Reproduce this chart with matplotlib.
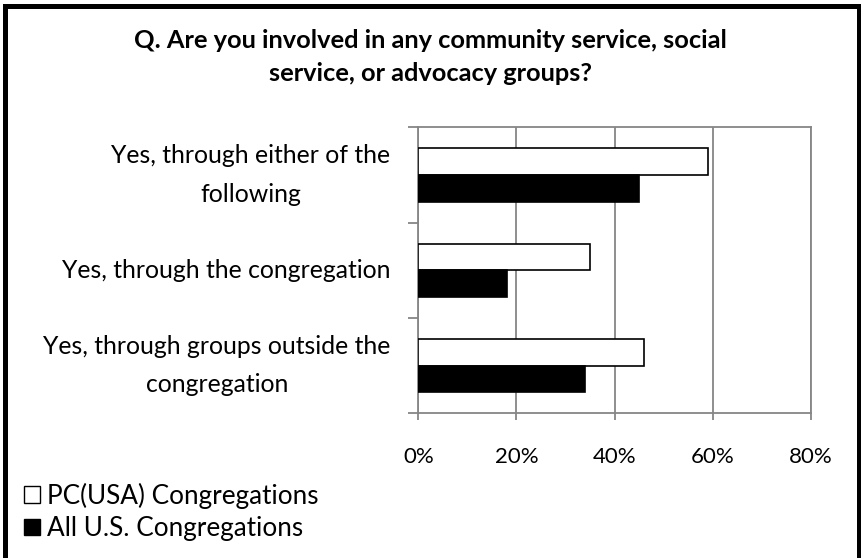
import numpy as np
import matplotlib
matplotlib.use("Agg")
import matplotlib.pyplot as plt
from matplotlib.patches import Rectangle, Patch
from matplotlib.ticker import PercentFormatter

# survey answers (top to bottom) and shares of respondents
categories = ["Yes, through either of the\nfollowing",
              "Yes, through the congregation",
              "Yes, through groups outside the\ncongregation"]
pcusa = [0.59, 0.35, 0.46]
all_us = [0.45, 0.18, 0.34]
series_names = ["PC(USA) Congregations", "All U.S. Congregations"]
x_ticks = [0, 0.2, 0.4, 0.6, 0.8]

plt.rcParams['font.family'] = ['Lato', 'DejaVu Sans']
grey = "#868686"

fig = plt.figure(figsize=(8.61, 5.58), dpi=100)
ax = fig.add_axes([418.3 / 861, 1 - 413.3 / 558, (811 - 418.3) / 861, (413.3 - 127.3) / 558])

y = np.arange(len(categories))
h = 0.28
ax.barh(y - h / 2, pcusa, height=h, color="white", edgecolor="black", linewidth=1.2, zorder=3)
ax.barh(y + h / 2, all_us, height=h, color="black", edgecolor="black", linewidth=1.2, zorder=3)

ax.set_xlim(0, 0.8)
ax.set_ylim(2.5, -0.5)
ax.set_xticks(x_ticks)
ax.xaxis.set_major_formatter(PercentFormatter(1.0, decimals=0))
ax.grid(axis="x", color=grey, linewidth=1.3, zorder=0)

# category labels centred in each band, ticks on band edges
ax.set_yticks(y)
ax.set_yticklabels(categories, multialignment="center", linespacing=1.8, va="center")
ax.set_yticks(np.arange(-0.5, len(categories)), minor=True)
ax.tick_params(axis="y", which="major", length=0, pad=20, labelsize=17.8)
ax.tick_params(axis="y", which="minor", length=7, color=grey, width=1.3)
ax.tick_params(axis="x", length=5, color=grey, width=1.3, pad=19, labelsize=16)
for s in ax.spines.values():
    s.set_color(grey)
    s.set_linewidth(1.3)

fig.text(0.5, 1 - 57 / 558, "Q. Are you involved in any community service, social\nservice, or advocacy groups?",
         ha="center", va="center", fontsize=18.3, fontweight="bold", linespacing=1.5)

handles = [Patch(facecolor="white", edgecolor="black", linewidth=1),
           Patch(facecolor="black", edgecolor="black", linewidth=1)]
fig.legend(handles, series_names, loc="upper left", bbox_to_anchor=(14 / 861, 1 - 472 / 558),
           frameon=False, fontsize=18.8, handlelength=0.6, handleheight=0.6, handletextpad=0.25,
           labelspacing=0.3, borderaxespad=0)

# outer frame around the whole chart
fig.patches.append(Rectangle((4.5 / 861, -1.5 / 558), 854 / 861, 1 - 4 / 558,
                             transform=fig.transFigure, fill=False, edgecolor="black",
                             linewidth=3.6, clip_on=False))

fig.savefig("out.png", dpi=100)
